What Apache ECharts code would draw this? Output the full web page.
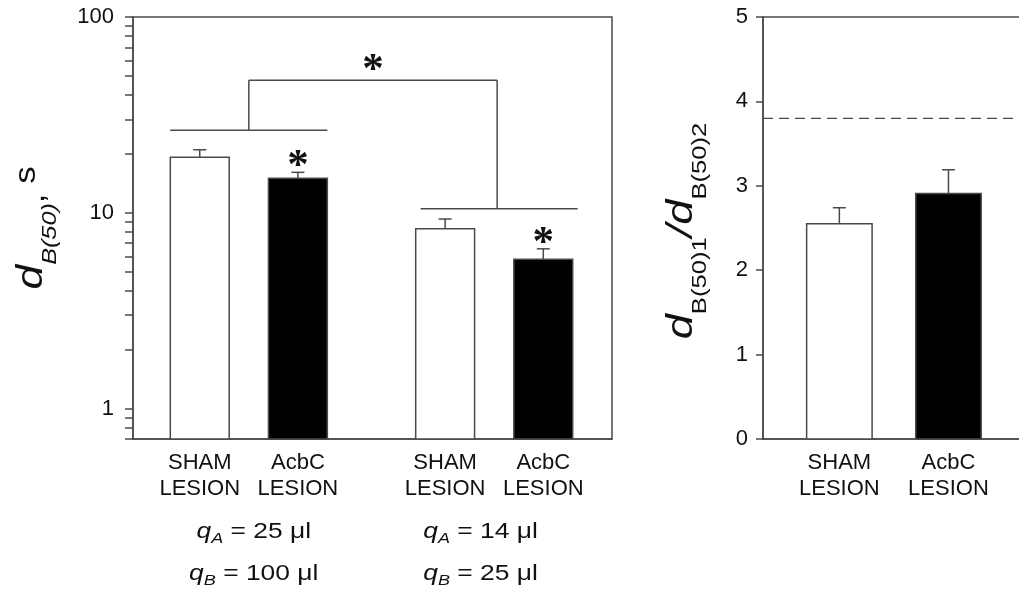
<!DOCTYPE html>
<html><head><meta charset="utf-8">
<script src="https://cdn.jsdelivr.net/npm/echarts@6/dist/echarts.min.js"></script>
<style>html,body{margin:0;padding:0;background:#fff}#c{width:1019px;height:592px}</style>
</head><body><div id="c"></div>
<script>
// ---------- data ----------
const leftCategories = ['SHAM\nLESION', 'AcbC\nLESION', 'SHAM\nLESION', 'AcbC\nLESION'];
const leftValues = [19.2, 15.0, 8.3, 5.8];
const leftErrors = [1.8, 1.1, 1.0, 0.75];
const leftStarred = [0, 1, 0, 1];
const leftTickLabels = [1, 10, 100];
const leftTicks = [0.7, 0.8, 0.9, 1, 2, 3, 4, 5, 6, 7, 8, 9, 10, 20, 30, 40, 50, 60, 70, 80, 90, 100];
const groupLabels = [
  '{q|q}{s|A}{n| = 25 μl}\n{q|q}{s|B}{n| = 100 μl}',
  '{q|q}{s|A}{n| = 14 μl}\n{q|q}{s|B}{n| = 25 μl}'
];
const groupBrackets = [[0.7, 2.3, 26.4, 1.5], [3.25, 4.85, 10.5, 4.03]];
const bracketTop = 47.5;
const rightCategories = ['SHAM\nLESION', 'AcbC\nLESION'];
const rightValues = [2.55, 2.91];
const rightErrors = [0.19, 0.28];
const rightTickLabels = [0, 1, 2, 3, 4, 5];
const referenceRatio = 3.8;
const leftTitle = '{d|d}{sub|B(50)}{c|,}{n| s}';
const rightTitle = '{d|d}{subu|B(50)1}{d|/d}{subu|B(50)2}';

// ---------- layout ----------
const leftXPos = [1, 2, 3.5, 4.5];
const groupLabelPos = [1.55, 3.86];
const rightXPos = [1, 2];
const BAR_HALF = 0.3;
const FONT = '"Liberation Sans", Arial, Helvetica, sans-serif';
const INK = '#111';
const LINE = '#4a4a4a';
const fillsLeft = ['#fff', '#000', '#fff', '#000'];
const fillsRight = ['#fff', '#000'];

function lookup(posArr, labels) {
  return function (v) {
    for (let i = 0; i < posArr.length; i++) if (Math.abs(posArr[i] - v) < 1e-6) return labels[i];
    return '';
  };
}

function starEl(x, y) {
  return {type: 'text', x: x, y: y, z2: 10, style: {
    text: '*', fontFamily: '"Liberation Serif", "Times New Roman", serif', fontWeight: 'bold',
    fontSize: 43, fill: INK, align: 'center', verticalAlign: 'middle'}};
}

function barRenderer(fills, extra) {
  return function (params, api) {
    const x = api.value(0), v = api.value(1), e = api.value(2), star = api.value(3);
    const cs = params.coordSys;
    const bottom = cs.y + cs.height;
    const l = api.coord([x - BAR_HALF, v]);
    const r = api.coord([x + BAR_HALF, v]);
    const t = api.coord([x, v + e]);
    const ls = {stroke: LINE, lineWidth: 1.5};
    const children = [
      {type: 'rect', shape: {x: l[0], y: l[1], width: r[0] - l[0], height: bottom - l[1]},
        style: {fill: fills[params.dataIndex], stroke: LINE, lineWidth: 1.5}},
      {type: 'line', shape: {x1: t[0], y1: l[1], x2: t[0], y2: t[1]}, style: ls},
      {type: 'line', shape: {x1: t[0] - 6.5, y1: t[1], x2: t[0] + 6.5, y2: t[1]}, style: ls}
    ];
    if (star) children.push(starEl(t[0], t[1] - 5));
    if (extra) extra(params, api, children);
    return {type: 'group', children: children};
  };
}

const chart = echarts.init(document.getElementById('c'), null, {renderer: 'canvas'});

const labelStyle = {fontFamily: FONT, fontSize: 22, color: INK};

chart.setOption({
  animation: false,
  backgroundColor: '#fff',
  grid: [
    {left: 133, top: 17, width: 479, height: 422, show: true, borderColor: LINE, borderWidth: 1.5,
      backgroundColor: 'transparent', outerBoundsMode: 'none', containLabel: false},
    {left: 763, top: 17, width: 300, height: 422, show: true, borderColor: LINE, borderWidth: 1.5,
      backgroundColor: 'transparent', outerBoundsMode: 'none', containLabel: false}
  ],
  xAxis: [
    {type: 'value', gridIndex: 0, min: 0.32, max: 5.2, position: 'bottom',
      axisLine: {show: true, onZero: false, lineStyle: {color: LINE, width: 1.5}},
      axisTick: {show: false}, splitLine: {show: false},
      axisLabel: Object.assign({customValues: leftXPos, margin: 11, lineHeight: 26,
        formatter: lookup(leftXPos, leftCategories)}, labelStyle)},
    {type: 'value', gridIndex: 1, min: 0.3, max: 3.05, position: 'bottom',
      axisLine: {show: true, onZero: false, lineStyle: {color: LINE, width: 1.5}},
      axisTick: {show: false}, splitLine: {show: false},
      axisLabel: Object.assign({customValues: rightXPos, margin: 11, lineHeight: 26,
        formatter: lookup(rightXPos, rightCategories)}, labelStyle)}
  ],
  yAxis: [
    {type: 'log', logBase: 10, gridIndex: 0, min: 0.7, max: 100,
      axisLine: {show: true, lineStyle: {color: LINE, width: 1.5}},
      axisTick: {show: true, inside: false, length: 8, customValues: leftTicks, lineStyle: {color: LINE, width: 1.5}},
      axisLabel: Object.assign({customValues: leftTickLabels, margin: 19, formatter: function (v) { return String(v); }}, labelStyle),
      splitLine: {show: false}, minorTick: {show: false}},
    {type: 'value', gridIndex: 1, min: 0, max: 5, interval: 1,
      axisLine: {show: true, lineStyle: {color: LINE, width: 1.5}},
      axisTick: {show: true, inside: false, length: 7, lineStyle: {color: LINE, width: 1.5}},
      axisLabel: Object.assign({margin: 15, customValues: rightTickLabels}, labelStyle),
      splitLine: {show: false}}
  ],
  series: [
    {type: 'custom', name: 'dB50', xAxisIndex: 0, yAxisIndex: 0,
      encode: {x: 0, y: 1},
      data: leftXPos.map(function (x, i) { return [x, leftValues[i], leftErrors[i], leftStarred[i]]; }),
      renderItem: barRenderer(fillsLeft)},
    {type: 'custom', name: 'brackets', xAxisIndex: 0, yAxisIndex: 0,
      encode: {x: [0, 1, 3], y: 2},
      data: groupBrackets,
      renderItem: function (params, api) {
        const a = api.coord([api.value(0), api.value(2)]);
        const b = api.coord([api.value(1), api.value(2)]);
        const r0 = api.coord([api.value(3), api.value(2)]);
        const r1 = api.coord([api.value(3), bracketTop]);
        const ls = {stroke: LINE, lineWidth: 1.5};
        const children = [
          {type: 'line', shape: {x1: a[0], y1: a[1], x2: b[0], y2: b[1]}, style: ls},
          {type: 'line', shape: {x1: r0[0], y1: r0[1], x2: r1[0], y2: r1[1]}, style: ls}
        ];
        if (params.dataIndex === 0) {
          const o = api.coord([groupBrackets[1][3], bracketTop]);
          children.push({type: 'line', shape: {x1: r1[0], y1: r1[1], x2: o[0], y2: o[1]}, style: ls});
          children.push(starEl((r1[0] + o[0]) / 2, r1[1] - 9));
        }
        return {type: 'group', children: children};
      }},
    {type: 'custom', name: 'ratio', xAxisIndex: 1, yAxisIndex: 1,
      encode: {x: 0, y: 1},
      data: rightXPos.map(function (x, i) { return [x, rightValues[i], rightErrors[i], 0]; }),
      renderItem: barRenderer(fillsRight, function (params, api, children) {
        if (params.dataIndex !== 0) return;
        const cs = params.coordSys;
        const y = api.coord([1, referenceRatio])[1];
        children.unshift({type: 'line', shape: {x1: cs.x, y1: y, x2: cs.x + cs.width, y2: y},
          style: {stroke: LINE, lineWidth: 1.3, lineDash: [10, 6]}});
      })}
  ]
});

// ---------- titles and dose labels (real text, placed relative to the axes) ----------
const titleRich = {
  d: {fontFamily: FONT, fontSize: 37, fontStyle: 'italic', lineHeight: 48, fill: INK},
  sub: {fontFamily: FONT, fontSize: 21, fontStyle: 'italic', lineHeight: 48, padding: [37, 0, 0, 0], fill: INK},
  subu: {fontFamily: FONT, fontSize: 21, lineHeight: 48, padding: [37, 0, 0, 0], fill: INK},
  c: {fontFamily: FONT, fontSize: 29, lineHeight: 48, padding: [8, 0, 0, 0], fill: INK},
  n: {fontFamily: FONT, fontSize: 29, lineHeight: 48, padding: [0, 0, 10, 0], fill: INK}
};
const qRich = {
  q: {fontFamily: FONT, fontSize: 22, fontStyle: 'italic', lineHeight: 42, fill: INK},
  s: {fontFamily: FONT, fontSize: 15, fontStyle: 'italic', lineHeight: 42, padding: [15, 0, 0, 0], fill: INK},
  n: {fontFamily: FONT, fontSize: 22, lineHeight: 42, fill: INK}
};
const yMidLeft = chart.convertToPixel({yAxisIndex: 0}, Math.sqrt(0.7 * 100));
const yMidRight = chart.convertToPixel({yAxisIndex: 1}, 2.5);
const xLeftAxis = chart.convertToPixel({xAxisIndex: 0}, 0.32);
const xRightAxis = chart.convertToPixel({xAxisIndex: 1}, 0.3);
const groupX = groupLabelPos.map(function (v) { return chart.convertToPixel({xAxisIndex: 0}, v); });
const yBottom = chart.convertToPixel({yAxisIndex: 0}, 0.7);

const graphics = [
  {type: 'text', x: xLeftAxis - 101, y: yMidLeft, rotation: Math.PI / 2, scaleX: 1.2,
    style: {text: leftTitle, rich: titleRich, align: 'center', verticalAlign: 'middle'}},
  {type: 'text', x: xRightAxis - 81, y: yMidRight + 3, rotation: Math.PI / 2, scaleX: 1.22,
    style: {text: rightTitle, rich: titleRich, align: 'center', verticalAlign: 'middle'}}
];
groupLabels.forEach(function (t, i) {
  graphics.push({type: 'text', x: groupX[i], y: yBottom + 113.5, scaleX: 1.2,
    style: {text: t, rich: qRich, align: 'center', verticalAlign: 'middle'}});
});
chart.setOption({graphic: graphics});
</script>
</body></html>
